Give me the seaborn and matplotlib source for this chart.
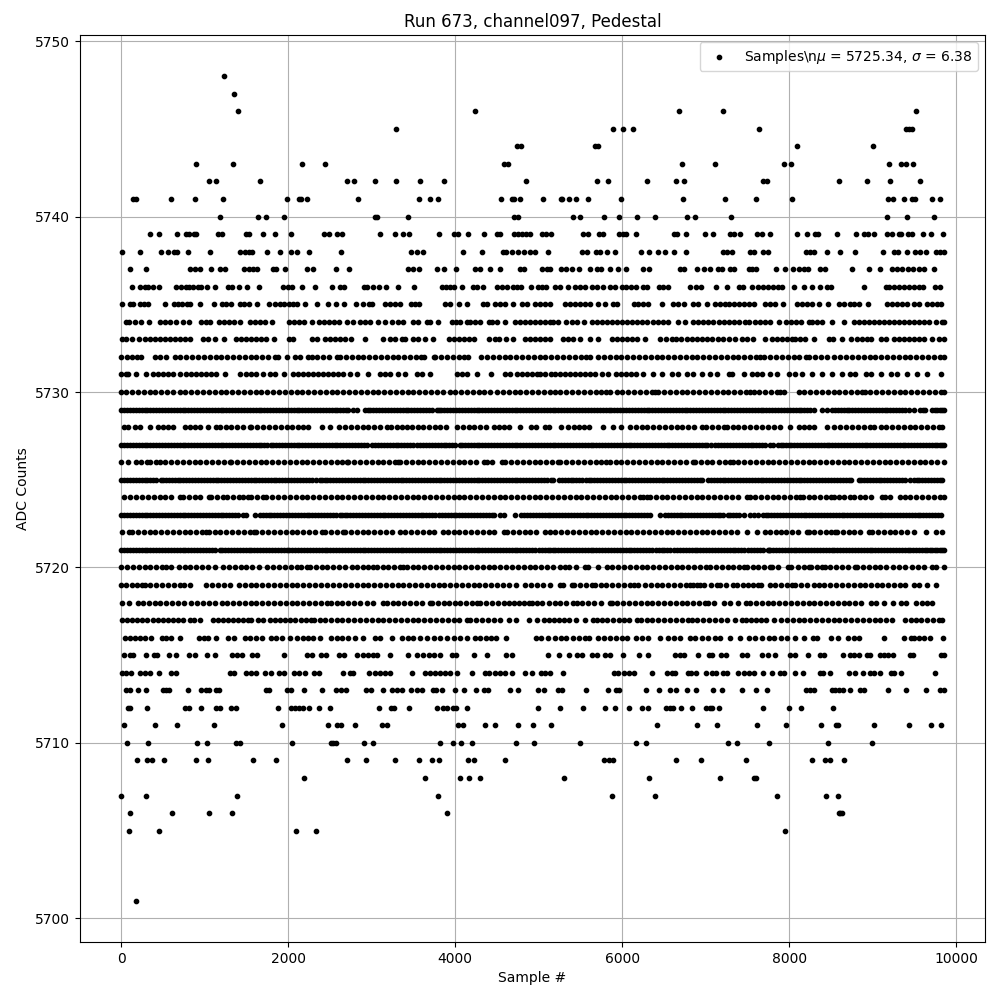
# plot.py - Run 673, channel097, pedestal samples
import pandas as pd
import matplotlib
matplotlib.use('Agg')
import matplotlib.pyplot as plt
import seaborn as sns

# sample numbers, one list per ADC level
s5748 = [1232]
s5747 = [1352]
s5746 = [1400, 4232, 6684, 7200, 9516]
s5745 = [3296, 5892, 6012, 6132, 7632, 9392, 9432, 9464]
s5744 = [4740, 4788, 5672, 5712, 8088, 9000]
s5743 = [896, 1340, 2168, 2444, 4588, 4628, 6720, 7104, 7932, 8016, 9192, 9332, 9396, 9480]
s5742 = [1052, 1136, 1664, 2708, 2792, 3044, 3296, 3584, 3860, 4844, 5700, 5832, 6300, 6648, 6744,
         7688, 7736, 8592, 8928, 9204, 9564]
s5741 = [140, 172, 596, 884, 1220, 1988, 2132, 2148, 2228, 2840, 3572, 3692, 3788, 4544, 4676, 4700,
         4772, 5048, 5264, 5284, 5364, 5448, 5592, 5988, 6732, 7224, 7596, 8028, 9180, 9240, 9372,
         9472, 9500, 9708, 9804]
s5740 = [1184, 1640, 1736, 1952, 3044, 3068, 3440, 4700, 4748, 5412, 5496, 5784, 5964, 6180, 6396,
         6780, 6876, 7296, 9168, 9408, 9732]
s5739 = [344, 452, 668, 772, 812, 868, 900, 1160, 1212, 1500, 1528, 1700, 1844, 2036, 2432, 2484,
         2588, 2640, 3104, 3284, 3380, 3452, 3800, 3980, 4028, 4148, 4340, 4500, 4532, 4700, 4748,
         4796, 4844, 4892, 5044, 5092, 5144, 5532, 5592, 5724, 5764, 5964, 6004, 6044, 6168, 6620,
         6660, 6764, 6996, 7084, 7284, 7332, 7412, 7612, 7676, 7764, 8088, 8208, 8312, 8340, 8568,
         8796, 8892, 8940, 9012, 9172, 9228, 9312, 9340, 9420, 9472, 9604, 9692, 9840]
s5738 = [8, 224, 476, 556, 628, 672, 800, 1064, 1424, 1480, 1528, 1572, 1748, 1904, 2036, 2100, 2252,
         2636, 3476, 3540, 3620, 4088, 4316, 4572, 4612, 4676, 4748, 4820, 4900, 4960, 5112, 5512,
         5572, 5684, 5732, 5820, 5916, 6224, 6324, 6432, 6516, 6620, 6768, 7200, 7252, 7312, 7524,
         7580, 7684, 7740, 8196, 8244, 8292, 8448, 8604, 8784, 9120, 9252, 9300, 9412, 9504, 9560,
         9632, 9752, 9804, 9850]
s5737 = [104, 296, 820, 880, 940, 1076, 1180, 1244, 1472, 1528, 1580, 1632, 1820, 1860, 1964, 2228,
         2300, 2576, 2732, 3440, 3492, 3572, 3776, 3860, 4004, 4232, 4292, 4412, 4532, 4772, 4820,
         5040, 5100, 5140, 5272, 5332, 5400, 5484, 5616, 5692, 5740, 5856, 5944, 6048, 6252, 6324,
         6692, 6744, 6900, 6984, 7056, 7140, 7192, 7284, 7340, 7512, 7552, 7604, 7836, 7944, 8040,
         8112, 8172, 8224, 8372, 8424, 8748, 8952, 9084, 9232, 9292, 9344, 9424, 9480, 9552, 9612,
         9728]
s5736 = [128, 228, 280, 320, 380, 452, 660, 720, 772, 812, 860, 920, 960, 1028, 1124, 1280, 1328,
         1412, 1508, 1652, 1940, 2000, 2040, 2168, 2324, 2528, 2620, 2672, 2908, 2948, 3020, 3092,
         3176, 3320, 3512, 3840, 3888, 3940, 3984, 4080, 4208, 4260, 4328, 4500, 4560, 4620, 4688,
         4740, 4788, 4904, 4992, 5044, 5092, 5192, 5260, 5352, 5432, 5492, 5552, 5632, 5692, 5764,
         5852, 5912, 5992, 6044, 6104, 6164, 6244, 6300, 6440, 6492, 6548, 6812, 6880, 6944, 7116,
         7252, 7392, 7444, 7556, 7628, 7680, 7740, 7800, 7860, 7916, 8056, 8172, 8268, 8364, 8452,
         8504, 8892, 9152, 9192, 9252, 9312, 9372, 9432, 9492, 9552, 9604, 9740, 9804]
s5735 = [12, 108, 148, 220, 268, 320, 524, 628, 680, 728, 788, 828, 944, 1108, 1212, 1260, 1316,
         1420, 1472, 1528, 1628, 1772, 1848, 1900, 1952, 2004, 2052, 2100, 2204, 2348, 2480, 2576,
         2672, 2816, 2900, 2972, 3008, 3164, 3220, 3280, 3340, 3472, 3520, 3568, 3872, 3940, 4040,
         4140, 4332, 4380, 4476, 4540, 4592, 4688, 4800, 4860, 4952, 5012, 5080, 5132, 5312, 5372,
         5432, 5492, 5552, 5612, 5712, 5796, 5892, 5940, 6144, 6192, 6252, 6312, 6472, 6612, 6672,
         6744, 6852, 6912, 7012, 7112, 7172, 7232, 7280, 7332, 7392, 7452, 7512, 7572, 7704, 7764,
         7832, 7920, 8092, 8152, 8212, 8272, 8352, 8460, 8592, 8652, 8724, 8772, 8832, 8940, 9172,
         9232, 9292, 9352, 9412, 9492, 9552, 9652, 9712, 9772, 9820]
s5734 = [60, 100, 160, 232, 332, 460, 520, 580, 656, 740, 812, 960, 1020, 1060, 1172, 1230, 1290,
         1350, 1428, 1540, 1600, 1660, 1720, 1808, 2012, 2072, 2132, 2192, 2280, 2372, 2432, 2492,
         2552, 2612, 2708, 2780, 2860, 2920, 2980, 3080, 3164, 3240, 3320, 3380, 3500, 3560, 3660,
         3700, 3792, 3960, 4012, 4060, 4140, 4180, 4240, 4300, 4400, 4440, 4500, 4600, 4712, 4772,
         4832, 4892, 4952, 5012, 5072, 5132, 5172, 5232, 5332, 5392, 5452, 5544, 5632, 5692, 5752,
         5812, 5872, 5932, 5992, 6052, 6112, 6172, 6232, 6292, 6372, 6432, 6492, 6552, 6672, 6752,
         6852, 6912, 6972, 7032, 7092, 7152, 7212, 7272, 7332, 7392, 7472, 7512, 7592, 7644, 7704,
         7764, 7872, 7964, 8024, 8084, 8144, 8232, 8272, 8332, 8392, 8512, 8660, 8772, 8832, 8892,
         8952, 9012, 9072, 9132, 9192, 9252, 9312, 9372, 9432, 9492, 9552, 9612, 9672, 9752, 9830,
         9850]
s5733 = [12, 60, 132, 212, 280, 340, 400, 460, 520, 588, 640, 700, 760, 828, 980, 1040, 1120, 1232,
         1380, 1440, 1500, 1560, 1620, 1680, 1740, 1828, 2012, 2052, 2288, 2340, 2440, 2500, 2560,
         2620, 2680, 2748, 2924, 3140, 3220, 3280, 3360, 3400, 3492, 3552, 3632, 3728, 3928, 3980,
         4040, 4100, 4160, 4228, 4400, 4480, 4528, 4612, 4692, 4840, 4900, 4960, 5020, 5072, 5140,
         5292, 5352, 5412, 5492, 5612, 5712, 5872, 5932, 5992, 6052, 6112, 6172, 6272, 6448, 6524,
         6592, 6640, 6700, 6772, 6832, 6892, 6952, 7012, 7080, 7140, 7204, 7272, 7352, 7432, 7492,
         7564, 7712, 7792, 7852, 7912, 7972, 8032, 8072, 8132, 8192, 8292, 8472, 8524, 8628, 8740,
         8812, 8872, 8932, 8980, 9100, 9152, 9252, 9312, 9372, 9432, 9492, 9552, 9612, 9708, 9792,
         9850]
s5732 = [0, 70, 130, 190, 240, 400, 460, 532, 640, 710, 780, 850, 920, 990, 1060, 1130, 1200, 1270,
         1340, 1410, 1480, 1550, 1620, 1690, 1760, 1840, 1880, 1980, 2080, 2140, 2240, 2280, 2350,
         2420, 2490, 2580, 2620, 2690, 2760, 2830, 2900, 2970, 3040, 3110, 3180, 3250, 3320, 3390,
         3460, 3530, 3590, 3628, 3740, 3760, 3830, 3900, 3970, 4040, 4100, 4148, 4308, 4380, 4450,
         4520, 4590, 4660, 4730, 4800, 4870, 4940, 5010, 5080, 5150, 5220, 5290, 5360, 5430, 5500,
         5570, 5612, 5712, 5780, 5850, 5920, 5990, 6060, 6130, 6200, 6270, 6340, 6410, 6480, 6550,
         6620, 6690, 6760, 6830, 6900, 6970, 7040, 7110, 7180, 7250, 7320, 7390, 7460, 7530, 7600,
         7650, 7700, 7770, 7840, 7910, 7980, 8050, 8120, 8200, 8240, 8310, 8380, 8450, 8530, 8610,
         8680, 8750, 8820, 8890, 8960, 9030, 9100, 9170, 9240, 9310, 9380, 9450, 9520, 9590, 9660,
         9730, 9800, 9850]
s5731 = [0, 60, 80, 180, 300, 380, 440, 500, 560, 620, 700, 780, 840, 900, 960, 1020, 1080, 1140,
         1240, 1428, 1500, 1560, 1620, 1700, 1780, 1840, 1948, 2060, 2120, 2180, 2240, 2300, 2360,
         2420, 2480, 2540, 2600, 2660, 2740, 2824, 2952, 3100, 3160, 3220, 3320, 3400, 3540, 3600,
         3700, 4020, 4080, 4140, 4260, 4432, 4600, 4660, 4740, 4800, 4860, 4920, 4980, 5020, 5080,
         5148, 5200, 5252, 5312, 5372, 5432, 5492, 5552, 5612, 5672, 5752, 5832, 5924, 5984, 6044,
         6104, 6164, 6252, 6372, 6472, 6592, 6672, 6772, 6852, 6960, 7052, 7132, 7272, 7312, 7452,
         7552, 7612, 7672, 7772, 7852, 7992, 8072, 8152, 8272, 8392, 8512, 8632, 8724, 8792, 8912,
         8972, 9092, 9212, 9292, 9412, 9532, 9652, 9820]
s5730 = [0, 60, 130, 200, 270, 340, 410, 480, 550, 620, 700, 770, 840, 910, 980, 1050, 1120, 1190,
         1260, 1330, 1400, 1470, 1540, 1610, 1680, 1750, 1820, 1890, 1960, 2030, 2100, 2170, 2240,
         2310, 2380, 2450, 2520, 2590, 2660, 2730, 2800, 2870, 2940, 3010, 3080, 3150, 3220, 3290,
         3360, 3430, 3500, 3570, 3640, 3710, 3780, 3850, 3940, 4000, 4070, 4140, 4210, 4280, 4350,
         4420, 4500, 4570, 4640, 4710, 4780, 4850, 4920, 4990, 5060, 5130, 5192, 5260, 5330, 5400,
         5470, 5540, 5610, 5680, 5750, 5800, 5852, 5932, 6000, 6070, 6140, 6210, 6280, 6350, 6392,
         6432, 6500, 6570, 6640, 6710, 6780, 6850, 6920, 6990, 7060, 7130, 7200, 7270, 7340, 7410,
         7480, 7532, 7572, 7640, 7710, 7780, 7850, 7892, 7940, 8112, 8180, 8250, 8320, 8390, 8460,
         8530, 8600, 8670, 8740, 8810, 8872, 8900, 8970, 9040, 9110, 9180, 9250, 9320, 9390, 9460,
         9530, 9600, 9670, 9740, 9810, 9850]
s5729 = [0, 70, 140, 210, 280, 350, 420, 490, 560, 630, 700, 770, 840, 910, 980, 1050, 1120, 1190,
         1260, 1330, 1400, 1470, 1540, 1610, 1680, 1750, 1820, 1890, 1960, 2030, 2100, 2170, 2240,
         2310, 2380, 2450, 2520, 2590, 2660, 2720, 2780, 2820, 2920, 2952, 3020, 3090, 3160, 3230,
         3300, 3370, 3440, 3510, 3580, 3650, 3720, 3780, 3800, 3870, 3940, 4010, 4080, 4150, 4220,
         4290, 4360, 4430, 4500, 4570, 4640, 4710, 4780, 4850, 4920, 4990, 5060, 5130, 5200, 5270,
         5340, 5410, 5480, 5552, 5592, 5660, 5730, 5800, 5870, 5940, 6010, 6080, 6150, 6220, 6290,
         6360, 6430, 6500, 6570, 6640, 6710, 6780, 6850, 6920, 6990, 7060, 7130, 7200, 7270, 7340,
         7410, 7480, 7550, 7620, 7690, 7760, 7830, 7900, 7970, 8040, 8110, 8180, 8250, 8292, 8392,
         8452, 8512, 8580, 8650, 8720, 8790, 8860, 8930, 9000, 9070, 9140, 9210, 9280, 9350, 9432,
         9492, 9560, 9630, 9712, 9740, 9800, 9850]
s5729_more = [35, 105, 175, 245, 315, 385, 455, 525, 595, 665, 735, 805, 875, 945, 1015, 1085, 1155,
              1225, 1295, 1365, 1435, 1505, 1575, 1645, 1715, 1785, 1855, 1925, 1995, 2065, 2135,
              2205, 2275, 2345, 2415, 2485, 2555, 2625, 2690, 2985, 3055, 3125, 3195, 3265, 3335,
              3405, 3475, 3545, 3615, 3685, 3835, 3905, 3975, 4045, 4115, 4185, 4255, 4325, 4395,
              4465, 4535, 4605, 4675, 4745, 4815, 4885, 4955, 5025, 5095, 5165, 5235, 5305, 5375,
              5445, 5515, 5625, 5695, 5765, 5835, 5905, 5975, 6045, 6115, 6185, 6255, 6325, 6395,
              6465, 6535, 6605, 6675, 6745, 6815, 6885, 6955, 7025, 7095, 7165, 7235, 7305, 7375,
              7445, 7515, 7585, 7655, 7725, 7795, 7865, 7935, 8005, 8075, 8145, 8215, 8545, 8615,
              8685, 8755, 8825, 8895, 8965, 9035, 9105, 9175, 9245, 9315, 9385, 9595, 9770, 9825]
s5728 = [40, 80, 160, 220, 340, 440, 500, 560, 620, 760, 820, 880, 940, 1040, 1140, 1180, 1250, 1320,
         1390, 1460, 1540, 1560, 1630, 1700, 1770, 1840, 1910, 1980, 2040, 2120, 2180, 2240, 2400,
         2500, 2612, 2680, 2750, 2820, 2890, 2960, 3030, 3100, 3180, 3232, 3308, 3360, 3420, 3480,
         3550, 3620, 3690, 3760, 3820, 3892, 4020, 4090, 4160, 4230, 4300, 4370, 4460, 4520, 4580,
         4640, 4780, 4912, 4972, 5072, 5124, 5272, 5352, 5420, 5480, 5540, 5600, 5772, 5884, 5980,
         6092, 6160, 6230, 6300, 6370, 6440, 6510, 6580, 6650, 6720, 6790, 6860, 6952, 7000, 7070,
         7140, 7212, 7252, 7320, 7390, 7460, 7530, 7600, 7670, 7740, 7812, 7892, 8004, 8112, 8172,
         8232, 8292, 8452, 8540, 8612, 8680, 8750, 8820, 8890, 8960, 9012, 9092, 9160, 9230, 9300,
         9370, 9440, 9510, 9580, 9650, 9720, 9790, 9832]
s5727 = [0, 70, 140, 210, 280, 350, 420, 490, 560, 630, 700, 770, 840, 910, 980, 1050, 1120, 1190,
         1260, 1330, 1400, 1470, 1540, 1610, 1680, 1750, 1800, 1820, 1890, 1960, 2030, 2100, 2170,
         2240, 2310, 2380, 2450, 2520, 2590, 2660, 2730, 2800, 2870, 2940, 3000, 3040, 3110, 3180,
         3250, 3320, 3390, 3460, 3540, 3580, 3650, 3720, 3790, 3860, 3930, 4000, 4060, 4080, 4150,
         4220, 4290, 4360, 4430, 4500, 4570, 4640, 4710, 4780, 4850, 4920, 4990, 5060, 5130, 5200,
         5270, 5340, 5410, 5480, 5550, 5620, 5690, 5760, 5830, 5900, 5970, 6040, 6110, 6180, 6250,
         6320, 6390, 6460, 6530, 6600, 6670, 6740, 6810, 6880, 6950, 7020, 7110, 7150, 7220, 7290,
         7360, 7430, 7500, 7570, 7640, 7710, 7770, 7810, 7860, 7920, 7990, 8060, 8130, 8200, 8270,
         8340, 8410, 8480, 8550, 8620, 8690, 8760, 8830, 8900, 8970, 9040, 9110, 9180, 9250, 9320,
         9390, 9460, 9530, 9600, 9670, 9740, 9800, 9850]
s5727_more = [35, 105, 175, 245, 315, 385, 455, 525, 595, 665, 735, 805, 875, 945, 1015, 1085, 1155,
              1225, 1295, 1365, 1435, 1505, 1575, 1645, 1715, 1855, 1925, 1995, 2065, 2135, 2205,
              2275, 2345, 2415, 2485, 2555, 2625, 2695, 2765, 2835, 2905, 3075, 3145, 3215, 3285,
              3355, 3425, 3500, 3615, 3685, 3755, 3825, 3895, 3965, 4115, 4185, 4255, 4325, 4395,
              4465, 4535, 4605, 4675, 4745, 4815, 4885, 4955, 5025, 5095, 5165, 5235, 5305, 5375,
              5445, 5515, 5585, 5655, 5725, 5795, 5865, 5935, 6005, 6075, 6145, 6215, 6285, 6355,
              6425, 6495, 6565, 6635, 6705, 6775, 6845, 6915, 6985, 7065, 7185, 7255, 7325, 7395,
              7465, 7535, 7605, 7675, 7895, 7955, 8025, 8095, 8165, 8235, 8305, 8375, 8445, 8515,
              8585, 8655, 8725, 8795, 8865, 8935, 9005, 9075, 9145, 9215, 9285, 9355, 9425, 9495,
              9565, 9635, 9705, 9770, 9825]
s5726 = [0, 80, 172, 240, 310, 350, 420, 460, 530, 600, 670, 740, 810, 880, 950, 1020, 1090, 1160,
         1230, 1300, 1320, 1390, 1460, 1530, 1600, 1670, 1740, 1810, 1880, 1950, 2020, 2090, 2160,
         2230, 2300, 2370, 2440, 2510, 2580, 2640, 2700, 2720, 2790, 2860, 2930, 3000, 3070, 3140,
         3210, 3280, 3320, 3340, 3410, 3480, 3550, 3620, 3690, 3760, 3830, 3900, 3970, 4040, 4110,
         4180, 4250, 4340, 4380, 4440, 4560, 4600, 4670, 4740, 4810, 4880, 4950, 5020, 5090, 5160,
         5232, 5260, 5330, 5400, 5470, 5540, 5610, 5680, 5750, 5800, 5852, 5924, 5990, 6060, 6130,
         6200, 6270, 6340, 6410, 6480, 6550, 6620, 6690, 6760, 6852, 6872, 6940, 7010, 7080, 7160,
         7230, 7292, 7320, 7390, 7460, 7530, 7600, 7670, 7740, 7810, 7880, 7950, 8020, 8090, 8160,
         8230, 8300, 8370, 8440, 8510, 8580, 8650, 8720, 8790, 8860, 8930, 9000, 9070, 9140, 9210,
         9280, 9350, 9420, 9490, 9560, 9630, 9700, 9770, 9850]
s5725 = [0, 70, 140, 210, 280, 350, 420, 480, 500, 570, 640, 710, 780, 850, 920, 990, 1060, 1130,
         1200, 1270, 1340, 1410, 1480, 1550, 1620, 1690, 1720, 1790, 1860, 1930, 2000, 2070, 2140,
         2210, 2280, 2380, 2400, 2470, 2540, 2610, 2680, 2750, 2820, 2890, 2960, 3030, 3100, 3170,
         3240, 3310, 3380, 3450, 3520, 3590, 3660, 3730, 3800, 3870, 3940, 4010, 4080, 4150, 4220,
         4290, 4360, 4430, 4500, 4570, 4640, 4710, 4780, 4850, 4920, 4990, 5060, 5148, 5176, 5240,
         5310, 5380, 5450, 5520, 5604, 5628, 5700, 5770, 5840, 5910, 5980, 6050, 6120, 6190, 6260,
         6330, 6400, 6470, 6540, 6610, 6680, 6750, 6820, 6890, 6960, 7024, 7060, 7130, 7200, 7270,
         7340, 7410, 7480, 7550, 7620, 7690, 7760, 7830, 7900, 7970, 8040, 8110, 8180, 8250, 8320,
         8390, 8460, 8500, 8540, 8610, 8680, 8740, 8832, 8860, 8930, 9000, 9070, 9132, 9172, 9240,
         9310, 9380, 9440, 9492, 9524, 9590, 9660, 9730, 9800, 9832]
s5725_more = [35, 105, 175, 245, 315, 385, 535, 605, 675, 745, 815, 885, 955, 1025, 1095, 1165, 1235,
              1305, 1375, 1445, 1515, 1585, 1655, 1755, 1825, 1895, 1965, 2035, 2105, 2175, 2245,
              2330, 2435, 2505, 2575, 2645, 2715, 2785, 2855, 2925, 2995, 3065, 3135, 3205, 3275,
              3345, 3415, 3485, 3555, 3625, 3695, 3765, 3835, 3905, 3975, 4045, 4115, 4185, 4255,
              4325, 4395, 4465, 4535, 4605, 4675, 4745, 4815, 4885, 4955, 5025, 5100, 5275, 5345,
              5415, 5485, 5560, 5665, 5735, 5805, 5875, 5945, 6015, 6085, 6155, 6225, 6295, 6365,
              6435, 6505, 6575, 6645, 6715, 6785, 6855, 6925, 7095, 7165, 7235, 7305, 7375, 7445,
              7515, 7585, 7655, 7725, 7795, 7865, 7935, 8005, 8075, 8145, 8215, 8285, 8355, 8425,
              8575, 8645, 8710, 8895, 8965, 9035, 9100, 9205, 9275, 9345, 9555, 9625, 9695, 9765]
s5724 = [40, 110, 180, 250, 320, 390, 460, 530, 600, 700, 740, 810, 880, 950, 1048, 1080, 1150, 1220,
         1272, 1340, 1410, 1460, 1520, 1560, 1630, 1700, 1740, 1810, 1880, 1950, 2020, 2090, 2160,
         2230, 2300, 2370, 2440, 2510, 2580, 2650, 2720, 2790, 2860, 2930, 3000, 3070, 3140, 3210,
         3280, 3350, 3420, 3490, 3560, 3630, 3700, 3770, 3840, 3910, 3980, 4040, 4110, 4180, 4250,
         4320, 4390, 4460, 4530, 4600, 4670, 4740, 4810, 4880, 4950, 5020, 5090, 5160, 5230, 5300,
         5370, 5440, 5510, 5580, 5650, 5720, 5790, 5860, 5930, 6000, 6070, 6140, 6210, 6250, 6292,
         6332, 6400, 6470, 6540, 6610, 6680, 6750, 6820, 6890, 6960, 7030, 7100, 7170, 7240, 7310,
         7380, 7492, 7524, 7590, 7660, 7730, 7800, 7870, 7940, 8010, 8080, 8132, 8164, 8230, 8300,
         8370, 8440, 8500, 8540, 8600, 8660, 8732, 8772, 8840, 8910, 8980, 9112, 9140, 9200, 9330,
         9380, 9450, 9520, 9590, 9660, 9730, 9800, 9850]
s5723 = [0, 70, 140, 210, 280, 350, 420, 490, 560, 630, 700, 770, 840, 910, 980, 1050, 1120, 1190,
         1260, 1330, 1400, 1460, 1500, 1600, 1660, 1730, 1800, 1870, 1940, 2010, 2080, 2150, 2220,
         2290, 2360, 2430, 2500, 2570, 2620, 2640, 2710, 2780, 2850, 2920, 2990, 3060, 3130, 3200,
         3270, 3340, 3410, 3480, 3550, 3620, 3690, 3760, 3808, 3840, 3910, 3980, 4050, 4120, 4190,
         4260, 4330, 4400, 4440, 4460, 4530, 4580, 4720, 4788, 4860, 4930, 5000, 5070, 5140, 5210,
         5280, 5350, 5420, 5490, 5560, 5630, 5700, 5770, 5840, 5910, 5980, 6050, 6120, 6190, 6260,
         6330, 6452, 6512, 6580, 6650, 6720, 6790, 6860, 6930, 7000, 7070, 7140, 7200, 7260, 7330,
         7400, 7452, 7532, 7572, 7620, 7680, 7750, 7820, 7890, 7960, 8030, 8100, 8170, 8240, 8310,
         8380, 8450, 8520, 8590, 8660, 8730, 8800, 8870, 8940, 9010, 9080, 9150, 9220, 9290, 9360,
         9430, 9500, 9570, 9640, 9710, 9780, 9820]
s5723_more = [35, 105, 175, 245, 315, 385, 455, 525, 595, 665, 735, 805, 875, 945, 1015, 1085, 1155,
              1225, 1295, 1365, 1695, 1765, 1835, 1905, 1975, 2045, 2115, 2185, 2255, 2325, 2395,
              2465, 2535, 2675, 2745, 2815, 2885, 2955, 3025, 3095, 3165, 3235, 3305, 3375, 3445,
              3515, 3585, 3655, 3725, 3875, 3945, 4015, 4085, 4155, 4225, 4295, 4365, 4825, 4895,
              4965, 5035, 5105, 5175, 5245, 5315, 5385, 5455, 5525, 5595, 5665, 5735, 5805, 5875,
              5945, 6015, 6085, 6155, 6225, 6295, 6545, 6615, 6685, 6755, 6825, 6895, 6965, 7035,
              7105, 7170, 7295, 7365, 7715, 7785, 7855, 7925, 7995, 8065, 8135, 8205, 8275, 8345,
              8415, 8485, 8555, 8625, 8695, 8765, 8835, 8905, 8975, 9045, 9115, 9185, 9255, 9325,
              9395, 9465, 9535, 9605, 9675, 9745]
s5722 = [12, 100, 128, 200, 270, 340, 410, 480, 550, 620, 690, 760, 830, 900, 970, 1020, 1052, 1120,
         1188, 1260, 1330, 1400, 1470, 1540, 1588, 1620, 1690, 1760, 1830, 1900, 1970, 2040, 2110,
         2180, 2250, 2320, 2400, 2440, 2510, 2580, 2652, 2680, 2750, 2820, 2890, 2960, 3030, 3100,
         3170, 3240, 3340, 3400, 3470, 3540, 3610, 3680, 3750, 3852, 3908, 3980, 4050, 4120, 4190,
         4260, 4330, 4400, 4470, 4580, 4620, 4690, 4760, 4830, 4900, 4970, 5080, 5132, 5200, 5270,
         5340, 5410, 5480, 5550, 5620, 5690, 5760, 5830, 5900, 5970, 6040, 6110, 6180, 6250, 6320,
         6390, 6460, 6530, 6600, 6670, 6740, 6810, 6880, 6950, 7020, 7090, 7160, 7230, 7300, 7370,
         7492, 7612, 7704, 7770, 7840, 7900, 7964, 8030, 8100, 8212, 8232, 8300, 8370, 8440, 8500,
         8552, 8572, 8640, 8710, 8780, 8850, 8952, 8992, 9060, 9130, 9200, 9270, 9340, 9410, 9492,
         9632, 9752, 9832]
s5721 = [0, 70, 140, 210, 280, 350, 420, 490, 560, 630, 700, 770, 840, 910, 980, 1050, 1120, 1180,
         1212, 1280, 1350, 1420, 1490, 1560, 1630, 1700, 1770, 1840, 1910, 1980, 2050, 2120, 2190,
         2260, 2330, 2400, 2470, 2540, 2610, 2680, 2750, 2820, 2890, 2960, 3030, 3100, 3170, 3240,
         3310, 3380, 3450, 3520, 3590, 3660, 3730, 3800, 3870, 3940, 4010, 4080, 4150, 4220, 4290,
         4360, 4430, 4500, 4570, 4640, 4710, 4780, 4850, 4920, 5000, 5070, 5140, 5172, 5200, 5270,
         5340, 5410, 5480, 5550, 5620, 5690, 5760, 5830, 5900, 5970, 6040, 6110, 6180, 6250, 6320,
         6400, 6470, 6540, 6572, 6620, 6690, 6760, 6830, 6900, 6970, 7040, 7110, 7180, 7250, 7320,
         7390, 7460, 7540, 7610, 7680, 7740, 7752, 7770, 7840, 7910, 7980, 8050, 8120, 8190, 8260,
         8330, 8400, 8470, 8540, 8610, 8680, 8750, 8820, 8890, 8960, 9030, 9100, 9170, 9240, 9310,
         9380, 9450, 9520, 9590, 9652, 9680, 9740, 9800, 9850]
s5721_more = [35, 105, 175, 245, 315, 385, 455, 525, 595, 665, 735, 805, 875, 945, 1015, 1085, 1245,
              1315, 1385, 1455, 1525, 1595, 1665, 1735, 1805, 1875, 1945, 2015, 2085, 2155, 2225,
              2295, 2365, 2435, 2505, 2575, 2645, 2715, 2785, 2855, 2925, 2995, 3065, 3135, 3205,
              3275, 3345, 3415, 3485, 3555, 3625, 3695, 3765, 3835, 3905, 3975, 4045, 4115, 4185,
              4255, 4325, 4395, 4465, 4535, 4605, 4675, 4745, 4815, 4885, 4960, 5035, 5105, 5235,
              5305, 5375, 5445, 5515, 5585, 5655, 5725, 5795, 5865, 5935, 6005, 6075, 6145, 6215,
              6285, 6360, 6435, 6505, 6655, 6725, 6795, 6865, 6935, 7005, 7075, 7145, 7215, 7285,
              7355, 7425, 7500, 7575, 7645, 7805, 7875, 7945, 8015, 8085, 8155, 8225, 8295, 8365,
              8435, 8505, 8575, 8645, 8715, 8785, 8855, 8925, 8995, 9065, 9135, 9205, 9275, 9345,
              9415, 9485, 9555, 9620, 9710, 9770, 9825]
s5720 = [0, 70, 140, 210, 280, 350, 420, 490, 540, 600, 692, 760, 830, 900, 970, 1040, 1120, 1220,
         1290, 1360, 1430, 1500, 1570, 1652, 1748, 1820, 1890, 1960, 2030, 2100, 2152, 2228, 2260,
         2330, 2400, 2470, 2540, 2610, 2680, 2760, 2820, 2890, 2960, 3020, 3060, 3130, 3200, 3270,
         3340, 3380, 3420, 3490, 3560, 3630, 3700, 3770, 3840, 3910, 3980, 4050, 4120, 4190, 4260,
         4330, 4400, 4470, 4540, 4610, 4680, 4750, 4820, 4890, 4960, 5030, 5100, 5170, 5260, 5320,
         5364, 5440, 5552, 5592, 5712, 5812, 5880, 5950, 6020, 6090, 6160, 6230, 6300, 6370, 6440,
         6510, 6580, 6650, 6720, 6790, 6860, 6930, 7000, 7052, 7120, 7190, 7260, 7330, 7400, 7452,
         7492, 7560, 7630, 7700, 7764, 7792, 7860, 7984, 8024, 8100, 8170, 8232, 8260, 8330, 8392,
         8424, 8490, 8560, 8630, 8700, 8792, 8812, 8880, 8950, 9020, 9090, 9160, 9240, 9312, 9384,
         9472, 9540, 9610, 9704, 9756, 9850]
s5719 = [0, 60, 128, 190, 252, 280, 350, 420, 490, 560, 630, 700, 750, 820, 1020, 1090, 1160, 1230,
         1308, 1412, 1480, 1550, 1620, 1690, 1760, 1830, 1900, 1970, 2040, 2110, 2180, 2250, 2320,
         2390, 2460, 2540, 2610, 2680, 2750, 2820, 2890, 2960, 3030, 3100, 3170, 3240, 3310, 3380,
         3450, 3520, 3590, 3660, 3730, 3800, 3870, 3940, 4010, 4080, 4150, 4220, 4290, 4360, 4430,
         4500, 4570, 4640, 4728, 4840, 4910, 4980, 5050, 5140, 5252, 5292, 5392, 5420, 5490, 5560,
         5632, 5672, 5740, 5810, 5880, 5950, 6020, 6090, 6140, 6192, 6272, 6340, 6410, 6480, 6550,
         6620, 6690, 6760, 6812, 6852, 6892, 6932, 6984, 7060, 7132, 7172, 7240, 7320, 7372, 7440,
         7500, 7570, 7620, 7660, 7764, 7830, 7900, 7970, 8032, 8072, 8140, 8210, 8292, 8352, 8420,
         8490, 8560, 8630, 8700, 8770, 8840, 8910, 8980, 9052, 9112, 9180, 9250, 9320, 9390, 9492,
         9552, 9652, 9760]
s5718 = [12, 100, 200, 260, 330, 400, 470, 540, 610, 680, 750, 840, 908, 980, 1050, 1120, 1212, 1268,
         1340, 1410, 1480, 1550, 1620, 1690, 1760, 1830, 1900, 1970, 2040, 2110, 2180, 2250, 2320,
         2390, 2460, 2508, 2580, 2650, 2720, 2790, 2860, 2940, 3012, 3140, 3180, 3250, 3320, 3390,
         3460, 3530, 3600, 3700, 3720, 3790, 3860, 3920, 4000, 4060, 4130, 4200, 4260, 4300, 4370,
         4440, 4510, 4580, 4640, 4700, 4760, 4820, 4880, 4920, 4980, 5044, 5120, 5192, 5252, 5330,
         5412, 5452, 5520, 5590, 5660, 5740, 5852, 5872, 5940, 6010, 6080, 6150, 6220, 6290, 6360,
         6430, 6500, 6570, 6640, 6710, 6780, 6850, 6920, 6992, 7032, 7100, 7212, 7292, 7380, 7484,
         7532, 7600, 7670, 7740, 7810, 7880, 7950, 8020, 8090, 8160, 8230, 8300, 8370, 8440, 8510,
         8580, 8650, 8720, 8790, 8860, 8972, 9032, 9132, 9244, 9332, 9392, 9512, 9592, 9644, 9712]
s5717 = [15, 75, 135, 195, 255, 315, 380, 440, 500, 560, 620, 680, 740, 820, 872, 940, 1100, 1160,
         1220, 1280, 1340, 1400, 1460, 1520, 1560, 1640, 1700, 1780, 1840, 1900, 1960, 2020, 2080,
         2150, 2210, 2270, 2312, 2380, 2440, 2510, 2580, 2650, 2720, 2790, 2860, 2930, 3000, 3070,
         3140, 3210, 3280, 3350, 3420, 3490, 3560, 3630, 3700, 3770, 3840, 3910, 3980, 4050, 4140,
         4180, 4250, 4320, 4390, 4460, 4530, 4640, 4724, 4880, 4980, 5064, 5124, 5184, 5244, 5300,
         5360, 5450, 5556, 5644, 5700, 5760, 5820, 5892, 5964, 6024, 6084, 6172, 6224, 6290, 6360,
         6430, 6500, 6570, 6640, 6710, 6792, 6832, 6900, 6970, 7040, 7110, 7180, 7250, 7352, 7428,
         7484, 7544, 7604, 7664, 7724, 7812, 7900, 7970, 8040, 8110, 8180, 8250, 8320, 8390, 8460,
         8530, 8600, 8670, 8740, 8810, 8880, 8950, 9020, 9090, 9160, 9232, 9380, 9452, 9512, 9580,
         9650, 9720, 9790, 9832]
s5716 = [48, 108, 168, 220, 280, 360, 484, 540, 600, 700, 932, 988, 1040, 1140, 1280, 1352, 1484,
         1548, 1620, 1688, 1796, 1860, 1920, 2020, 2108, 2180, 2240, 2300, 2380, 2516, 2580, 2640,
         2720, 2800, 2900, 3044, 3100, 3248, 3368, 3440, 3500, 3580, 3660, 3740, 3820, 3900, 3980,
         4060, 4140, 4240, 4300, 4368, 4428, 4492, 4604, 4964, 5032, 5112, 5192, 5272, 5332, 5412,
         5484, 5552, 5604, 5712, 5780, 5852, 5924, 5992, 6052, 6164, 6232, 6312, 6448, 6552, 6624,
         6692, 6812, 6872, 6952, 7032, 7112, 7172, 7284, 7404, 7512, 7592, 7672, 7752, 7812, 7900,
         7968, 8072, 8172, 8284, 8332, 8500, 8580, 8704, 8772, 8832, 9132, 9372, 9452, 9492, 9552,
         9612, 9684, 9840]
s5715 = [32, 108, 140, 296, 388, 428, 572, 660, 812, 880, 1028, 1120, 1328, 1388, 1452, 1568, 1628,
         1952, 2228, 2288, 2396, 2452, 2612, 2668, 2828, 2892, 2952, 3020, 3060, 3224, 3440, 3540,
         3612, 3680, 3740, 3812, 3960, 4004, 4220, 4376, 4604, 4680, 5112, 5240, 5364, 5452, 5512,
         5640, 5700, 5792, 5856, 6012, 6204, 6304, 6636, 6692, 6744, 6904, 7040, 7080, 7180, 7240,
         7432, 7492, 7672, 7740, 7824, 8012, 8072, 8220, 8372, 8420, 8640, 8732, 8780, 8832, 8924,
         8964, 9084, 9132, 9180, 9244, 9444, 9480, 9812, 9850]
s5714 = [8, 60, 120, 224, 280, 348, 452, 600, 660, 1308, 1352, 1500, 1560, 1620, 1724, 1800, 1888,
         1952, 2072, 2132, 2200, 2312, 2372, 2660, 2740, 2780, 2972, 3040, 3100, 3160, 3220, 3488,
         3640, 3700, 3760, 3820, 3880, 3940, 4016, 4196, 4352, 4400, 4476, 4540, 4600, 4680, 4832,
         4920, 5028, 5080, 5140, 5292, 5904, 5952, 6024, 6080, 6144, 6360, 6540, 6592, 6628, 6792,
         6828, 6888, 7000, 7072, 7124, 7200, 7252, 7380, 7452, 7512, 7572, 7688, 7796, 7892, 7940,
         8064, 8160, 8364, 8400, 8484, 8712, 8784, 8880, 8964, 9012, 9084, 9212, 9252, 9336, 9744]
s5713 = [60, 108, 200, 296, 500, 532, 572, 800, 956, 1012, 1052, 1136, 1172, 1736, 1772, 1988, 2036,
         2192, 2400, 2576, 2636, 2696, 2936, 2996, 3140, 3248, 3308, 3368, 3476, 3540, 3608, 3728,
         3764, 3836, 3992, 4100, 4244, 4340, 4388, 4652, 4748, 4988, 5060, 5232, 5280, 5568, 5832,
         5928, 5964, 6288, 6444, 6576, 6648, 6780, 6888, 7092, 7188, 7428, 7596, 7728, 8204, 8244,
         8292, 8508, 8548, 8592, 8640, 8724, 8844, 8892, 9180, 9396, 9636, 9804, 9850]
s5712 = [80, 108, 308, 764, 812, 956, 1136, 1188, 1316, 1376, 1880, 2036, 2084, 2132, 2180, 2252,
         2372, 2504, 3092, 3236, 3272, 3452, 3776, 3848, 3900, 3968, 4004, 4136, 4992, 5256, 5532,
         5796, 5916, 6084, 6240, 6312, 6528, 6576, 6612, 6708, 6840, 7008, 7052, 7080, 7152, 7680,
         7992, 8136, 8520]
s5711 = [32, 404, 668, 1112, 1928, 2480, 2588, 2628, 2804, 3128, 3188, 4032, 4088, 4352, 4472, 4748,
         4928, 5148, 6420, 6900, 7128, 7608, 7956, 8376, 8556, 8588, 9012, 9432, 9696, 9816]
s5710 = [68, 320, 908, 1028, 1372, 1420, 2048, 2516, 2540, 2572, 2912, 3020, 3812, 3968, 4068, 4196,
         4724, 4940, 5496, 6168, 6288, 7260, 7368, 7752, 8460, 8988]
s5709 = [188, 308, 368, 512, 896, 1040, 1580, 1856, 2708, 2936, 3284, 3572, 3716, 3804, 4148, 4220,
         4592, 5784, 5844, 5892, 6648, 6948, 7476, 8268, 8424, 8484, 8652]
s5708 = [2192, 3632, 4052, 4160, 4292, 5304, 6324, 7164, 7576, 7604]
s5707 = [0, 296, 1388, 3788, 5880, 6396, 7848, 8436, 8580]
s5706 = [104, 608, 1052, 1328, 3896, 8590, 8610, 8630]
s5705 = [92, 452, 2096, 2336, 7944]
s5701 = [176]

adc_levels = [5748, 5747, 5746, 5745, 5744, 5743, 5742, 5741, 5740, 5739, 5738, 5737, 5736, 5735,
              5734, 5733, 5732, 5731, 5730, 5729, 5729, 5728, 5727, 5727, 5726, 5725, 5725, 5724,
              5723, 5723, 5722, 5721, 5721, 5720, 5719, 5718, 5717, 5716, 5715, 5714, 5713, 5712,
              5711, 5710, 5709, 5708, 5707, 5706, 5705, 5701]
samples_by_level = [s5748, s5747, s5746, s5745, s5744, s5743, s5742, s5741, s5740, s5739, s5738,
                    s5737, s5736, s5735, s5734, s5733, s5732, s5731, s5730, s5729, s5729_more,
                    s5728, s5727, s5727_more, s5726, s5725, s5725_more, s5724, s5723, s5723_more,
                    s5722, s5721, s5721_more, s5720, s5719, s5718, s5717, s5716, s5715, s5714,
                    s5713, s5712, s5711, s5710, s5709, s5708, s5707, s5706, s5705, s5701]

rows = []
for level, samples in zip(adc_levels, samples_by_level):
    for sample in samples:
        rows.append((sample, level))
df = pd.DataFrame(rows, columns=['sample', 'adc'])

fig, ax = plt.subplots(figsize=(10, 10), dpi=100)
sns.scatterplot(data=df, x='sample', y='adc', color='black', edgecolor='black', marker='.',
                s=38, linewidth=1, zorder=2, ax=ax,
                label='Samples\\n$\\mu$ = 5725.34, $\\sigma$ = 6.38')
ax.set_title('Run 673, channel097, Pedestal')
ax.set_xlabel('Sample #')
ax.set_ylabel('ADC Counts')
ax.grid(True)
ax.legend(loc='upper right')
fig.subplots_adjust(left=0.08, right=0.985, top=0.965, bottom=0.058)
fig.savefig('out.png', dpi=100)
